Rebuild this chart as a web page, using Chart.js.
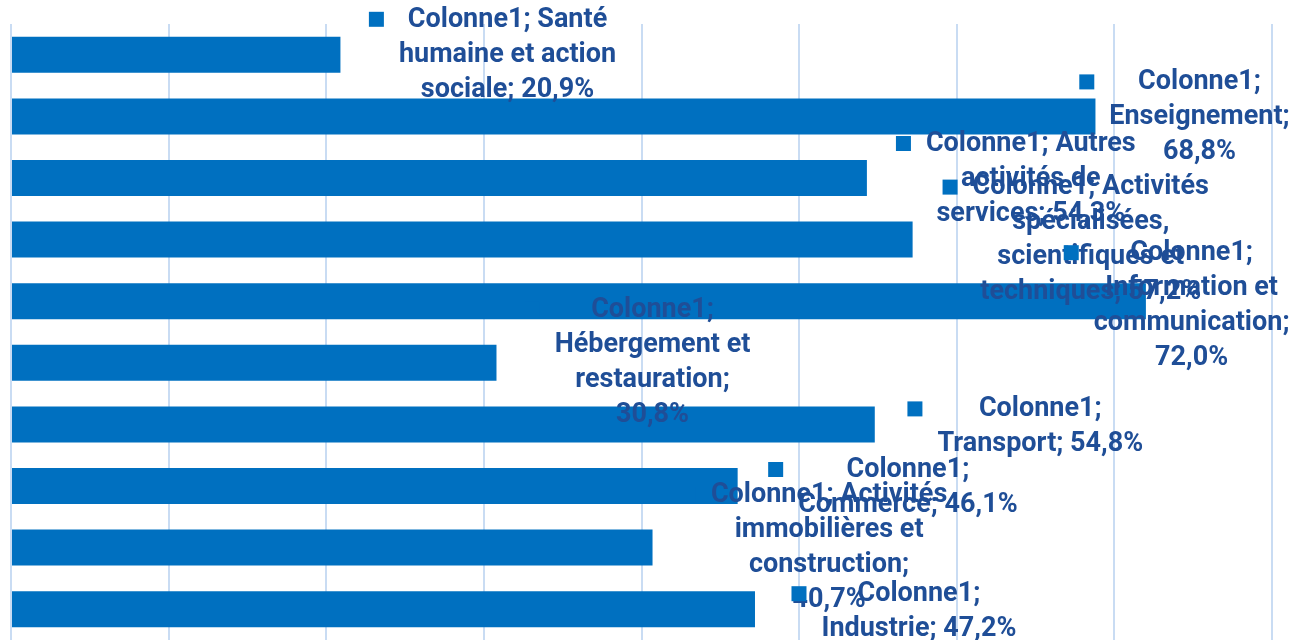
<!DOCTYPE html>
<html>
<head>
<meta charset="utf-8">
<script src="https://cdn.jsdelivr.net/npm/chart.js@4.4.1/dist/chart.umd.min.js"></script>
<style>
  html, body { margin: 0; padding: 0; background: #ffffff; }
  #wrap { width: 1297px; height: 640px; position: relative; }
</style>
</head>
<body>
<div id="wrap"><canvas id="chart"></canvas></div>
<script>
const seriesName = 'Colonne1';

const categories = [
    'Santé humaine et action sociale',
    'Enseignement',
    'Autres activités de services',
    'Activités spécialisées, scientifiques et techniques',
    'Information et communication',
    'Hébergement et restauration',
    'Transport',
    'Commerce',
    'Activités immobilières et construction',
    'Industrie'
];

const values = [20.9, 68.8, 54.3, 57.2, 72.0, 30.8, 54.8, 46.1, 40.7, 47.2];

const xTicks = [0, 10, 20, 30, 40, 50, 60, 70, 80];

// where Excel left each data label: centre in axis units, vertical shift in px, wrap width in px
const labelX = [31.5, 75.4, 64.7, 68.5, 74.9, 40.7, 65.3, 56.9, 51.9, 57.6];
const labelDy = [-35, -34, -34, -52, -48, -53, -15, -16, -52, -15];
const labelWrap = [230, 190, 225, 245, 205, 210, 225, 235, 237, 220];

const barColor = '#0070C0';
const textColor = '#1F4E97';
const gridColor = '#C9DCF3';
const labelFont = 'bold 27px Roboto';
const lineGap = 35;

function fmt(v) {
    return v.toFixed(1).replace('.', ',') + '%';
}

function wrapText(ctx, text, maxW) {
    const words = text.split(' ');
    const lines = [];
    let cur = '';
    words.forEach(w => {
        const test = cur ? cur + ' ' + w : w;
        if (cur && ctx.measureText(test).width > maxW) {
            lines.push(cur);
            cur = w;
        } else {
            cur = test;
        }
    });
    if (cur) lines.push(cur);
    return lines;
}

// Draws the Excel-style data labels (legend key + wrapped text)
const excelLabels = {
    id: 'excelLabels',
    afterDatasetsDraw(chart) {
        const ctx = chart.ctx;
        const xs = chart.scales.x;
        const ys = chart.scales.y;
        ctx.save();
        ctx.font = labelFont;
        ctx.textAlign = 'center';
        ctx.textBaseline = 'middle';
        categories.forEach((cat, i) => {
            const text = seriesName + '; ' + cat + '; ' + fmt(values[i]);
            const lines = wrapText(ctx, text, labelWrap[i]);
            const cx = xs.getPixelForValue(labelX[i]);
            const cy = ys.getPixelForValue(i) + labelDy[i];
            let maxW = 0;
            lines.forEach(l => { maxW = Math.max(maxW, ctx.measureText(l).width); });
            ctx.fillStyle = barColor;
            ctx.fillRect(cx - maxW / 2 - 30, cy - 8, 15, 15);
            ctx.fillStyle = textColor;
            lines.forEach((l, k) => {
                ctx.fillText(l, cx, cy + k * lineGap);
            });
        });
        ctx.restore();
    }
};

new Chart(document.getElementById('chart').getContext('2d'), {
    type: 'bar',
    data: {
        labels: categories,
        datasets: [{
            label: seriesName,
            data: values,
            backgroundColor: barColor,
            borderWidth: 0,
            barPercentage: 0.585,
            categoryPercentage: 1
        }]
    },
    options: {
        indexAxis: 'y',
        responsive: true,
        maintainAspectRatio: false,
        animation: false,
        layout: {
            padding: { left: 11, right: 25, top: 24, bottom: 0 }
        },
        plugins: {
            legend: { display: false },
            tooltip: { enabled: false },
            title: { display: false }
        },
        scales: {
            x: {
                min: 0,
                max: 80,
                afterBuildTicks: axis => { axis.ticks = xTicks.map(v => ({ value: v })); },
                ticks: { display: false },
                grid: { color: gridColor, lineWidth: 2, drawTicks: false },
                border: { display: false }
            },
            y: {
                ticks: { display: false },
                grid: { display: false, drawTicks: false },
                border: { display: false }
            }
        }
    },
    plugins: [excelLabels]
});
</script>
</body>
</html>
